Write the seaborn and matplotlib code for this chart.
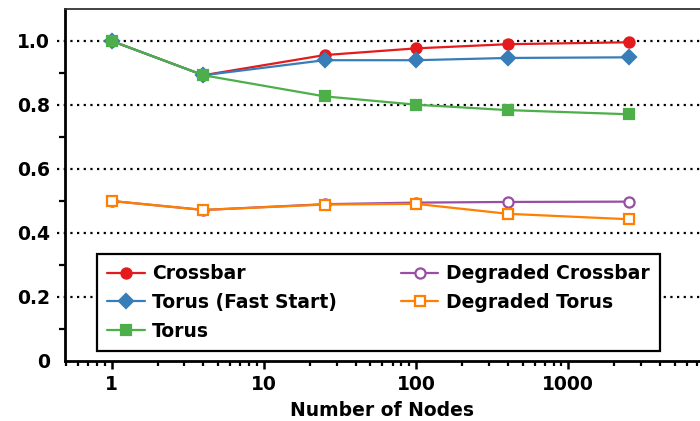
import numpy as np
import pandas as pd
import matplotlib
matplotlib.use("Agg")
import matplotlib.pyplot as plt
import seaborn as sns
from matplotlib.ticker import LogLocator, FixedLocator, NullFormatter

# Node counts and normalised throughput per network configuration
nodes = [1, 4, 25, 100, 400, 2500]
crossbar = [1.0, 0.893, 0.956, 0.977, 0.990, 0.996]
torus_fast = [1.0, 0.893, 0.940, 0.940, 0.947, 0.949]
torus = [1.0, 0.893, 0.827, 0.801, 0.784, 0.771]
degraded_crossbar = [0.5, 0.472, 0.490, 0.495, 0.497, 0.498]
degraded_torus = [0.5, 0.472, 0.489, 0.491, 0.460, 0.443]

series_names = ["Crossbar", "Torus (Fast Start)", "Torus",
                "Degraded Crossbar", "Degraded Torus"]
y_ticks = [0, 0.2, 0.4, 0.6, 0.8, 1.0]
y_tick_labels = ["0", "0.2", "0.4", "0.6", "0.8", "1.0"]
x_ticks = [1, 10, 100, 1000]
x_tick_labels = ["1", "10", "100", "1000"]

sns.set_style("ticks")
plt.rcParams["font.family"] = ["DejaVu Sans"]
plt.rcParams["font.weight"] = "bold"
plt.rcParams["text.color"] = "black"
plt.rcParams["axes.labelcolor"] = "black"
plt.rcParams["xtick.color"] = "black"
plt.rcParams["ytick.color"] = "black"
plt.rcParams["axes.edgecolor"] = "black"

FS = 13.5

fig = plt.figure(figsize=(7.0, 4.21), dpi=100)
ax = fig.add_axes([65 / 700, 60 / 421, 635 / 700, 352 / 421])

styles = {
    "Crossbar": dict(color="#e41a1c", marker="o", mfc="#e41a1c"),
    "Torus (Fast Start)": dict(color="#377eb8", marker="D", mfc="#377eb8"),
    "Torus": dict(color="#4daf4a", marker="s", mfc="#4daf4a"),
    "Degraded Crossbar": dict(color="#984ea3", marker="o", mfc="white"),
    "Degraded Torus": dict(color="#ff7f00", marker="s", mfc="white"),
}
values = [crossbar, torus_fast, torus, degraded_crossbar, degraded_torus]

df = pd.DataFrame({
    "nodes": np.tile(nodes, len(series_names)),
    "value": np.concatenate(values),
    "series": np.repeat(series_names, len(nodes)),
})

for name in series_names:
    st = styles[name]
    sub = df[df["series"] == name]
    sns.lineplot(data=sub, x="nodes", y="value", ax=ax, label=name,
                 color=st["color"], marker=st["marker"],
                 markersize=7.3 if st["marker"] != "D" else 6.8,
                 markerfacecolor=st["mfc"], markeredgecolor=st["color"],
                 markeredgewidth=1.6, linewidth=1.6)

ax.set_xscale("log")
ax.set_xlim(0.493, 7330)
ax.set_ylim(0, 1.1)

# dotted reference lines at the major y values, running slightly past the spine
for yv in y_ticks[1:]:
    ax.plot([-8 / 635, 1.0], [yv, yv], transform=ax.get_yaxis_transform(),
            color="black", linestyle=(0, (1, 2)), linewidth=1.6,
            clip_on=False, zorder=0.5)

ax.yaxis.set_major_locator(FixedLocator(y_ticks))
ax.set_yticklabels(y_tick_labels)
ax.yaxis.set_minor_locator(FixedLocator([0.1, 0.3, 0.5, 0.7, 0.9]))
ax.tick_params(axis="y", which="major", length=0, pad=11, labelsize=FS)
ax.tick_params(axis="y", which="minor", length=4, width=1.6, direction="out")

ax.xaxis.set_major_locator(FixedLocator(x_ticks))
ax.set_xticklabels(x_tick_labels)
ax.xaxis.set_minor_locator(LogLocator(base=10, subs=np.arange(2, 10), numticks=20))
ax.xaxis.set_minor_formatter(NullFormatter())
ax.tick_params(axis="x", which="major", length=6, width=1.8, direction="out",
               labelsize=FS, pad=4)
ax.tick_params(axis="x", which="minor", length=3.5, width=1.6, direction="out")

for lab in ax.get_xticklabels() + ax.get_yticklabels():
    lab.set_fontweight("bold")

ax.set_xlabel("Number of Nodes", fontsize=FS, fontweight="bold", labelpad=5)
ax.set_ylabel("")

ax.spines["left"].set_linewidth(2)
ax.spines["bottom"].set_linewidth(2)
ax.spines["top"].set_visible(True)
ax.spines["top"].set_linewidth(1.3)
ax.spines["top"].set_color("#333333")
ax.spines["right"].set_visible(False)

leg = ax.legend(loc="lower left", bbox_to_anchor=(32 / 635, 10 / 352, 563 / 635, 97 / 352),
                mode="expand", ncol=2, fontsize=FS, frameon=True, fancybox=False,
                framealpha=1.0, borderpad=0.55, handlelength=2.0, handletextpad=0.4,
                labelspacing=0.52, columnspacing=1.0, borderaxespad=0)
leg.get_frame().set_edgecolor("black")
leg.get_frame().set_facecolor("white")
leg.get_frame().set_linewidth(1.6)
for t in leg.get_texts():
    t.set_fontweight("bold")

fig.savefig("out.png", dpi=100)
